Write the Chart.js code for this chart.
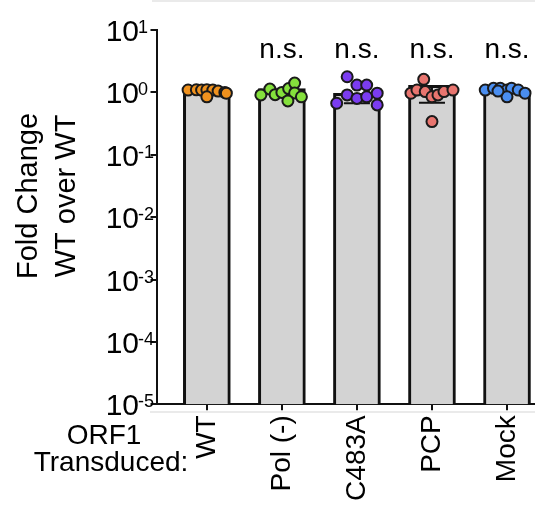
<!DOCTYPE html>
<html>
<head>
<meta charset="utf-8">
<script src="https://cdn.jsdelivr.net/npm/chart.js@4.4.1/dist/chart.umd.min.js"></script>
<style>
  html, body { margin: 0; padding: 0; background: #fff; overflow: hidden; }
  #wrap { width: 535px; height: 507px; position: relative; }
</style>
</head>
<body>
<div id="wrap"><canvas id="chart"></canvas></div>
<script>
// categories and bar values (fold change)
const categories = ['WT', 'Pol (-)', 'C483A', 'PCP', 'Mock'];
const barMeans = [1.10, 1.15, 0.97, 1.30, 1.09];
const errLow = [1.03, 0.95, 0.67, 0.68, 1.00];
const sigLabels = ['', 'n.s.', 'n.s.', 'n.s.', 'n.s.'];
const yTickPowers = [1, 0, -1, -2, -3, -4, -5];

// individual replicates per group
const dotsWT   = [1.09, 1.10, 1.09, 1.10, 1.09, 1.05, 1.00, 0.85, 0.97];
const dotsPol  = [0.91, 1.13, 0.92, 1.00, 1.15, 1.41, 0.98, 0.73, 0.85];
const dotsC483 = [1.78, 1.31, 1.31, 0.91, 0.80, 0.85, 0.97, 0.67, 0.63];
const dotsPCP  = [1.62, 0.97, 1.09, 1.03, 0.85, 0.91, 1.03, 1.09, 0.34];
const dotsMock = [1.09, 1.16, 1.16, 1.09, 1.16, 1.09, 0.97, 0.85, 1.05];

// horizontal scatter of the dots, in category units
const jitterWT   = [-0.25, -0.14, -0.07, 0.00, 0.08, 0.15, 0.24, 0.00, 0.26];
const jitterPol  = [-0.28, -0.16, -0.09, 0.00, 0.09, 0.17, 0.17, 0.08, 0.26];
const jitterC483 = [-0.13, 0.00, 0.13, -0.13, 0.00, 0.13, 0.27, -0.27, 0.27];
const jitterPCP  = [-0.11, -0.28, -0.20, -0.09, 0.00, 0.08, 0.16, 0.28, 0.00];
const jitterMock = [-0.29, -0.18, -0.09, 0.00, 0.06, 0.15, 0.24, 0.00, -0.12];

const groupDots = [dotsWT, dotsPol, dotsC483, dotsPCP, dotsMock];
const groupJitter = [jitterWT, jitterPol, jitterC483, jitterPCP, jitterMock];
const groupColors = ['#f0921e', '#84e03c', '#7b3cf0', '#e8756f', '#4a8ef0'];

const FONT = '"Liberation Sans", Arial, sans-serif';

const scatterSets = groupDots.map((vals, g) => ({
  type: 'scatter',
  order: 1,
  data: vals.map((v, k) => ({ x: g + groupJitter[g][k], y: v })),
  backgroundColor: groupColors[g],
  borderColor: '#1a1a1a',
  borderWidth: 2,
  pointRadius: 5.5
}));

// error bars (drawn below the mean only), after the bars but under the dots
const errorBars = {
  id: 'errorBars',
  afterDatasetDraw(chart, args) {
    if (args.index !== 0) return;
    const { ctx, scales: { x, y } } = chart;
    ctx.save();
    ctx.strokeStyle = '#111';
    ctx.lineWidth = 2;
    barMeans.forEach((m, i) => {
      const px = x.getPixelForValue(i);
      const y0 = y.getPixelForValue(m);
      const y1 = y.getPixelForValue(errLow[i]);
      ctx.beginPath();
      ctx.moveTo(px, y0);
      ctx.lineTo(px, y1);
      ctx.moveTo(px - 13, y1);
      ctx.lineTo(px + 13, y1);
      ctx.stroke();
    });
    ctx.restore();
  }
};

// texts: y tick labels with exponents, axis titles, n.s. marks
const labels = {
  id: 'labels',
  afterDraw(chart) {
    const { ctx, scales: { x, y } } = chart;
    ctx.save();
    ctx.fillStyle = '#000';
    yTickPowers.forEach(p => {
      const py = y.getPixelForValue(Math.pow(10, p));
      ctx.font = '30px ' + FONT;
      ctx.textAlign = 'right';
      ctx.textBaseline = 'alphabetic';
      ctx.fillText('10', 139, py + 11);
      ctx.font = '18px ' + FONT;
      ctx.textAlign = 'left';
      ctx.fillText(String(p), 138, py + 3);
    });

    ctx.font = '28px ' + FONT;
    ctx.textAlign = 'center';
    sigLabels.forEach((s, i) => {
      if (s) ctx.fillText(s, x.getPixelForValue(i), 58);
    });

    ctx.fillText('ORF1', 104, 444);
    ctx.fillText('Transduced:', 111, 471);

    ctx.font = '29px ' + FONT;
    [['Fold Change', 37], ['WT over WT', 75]].forEach(([t, bx]) => {
      ctx.save();
      ctx.translate(bx, 196);
      ctx.rotate(-Math.PI / 2);
      ctx.fillText(t, 0, 0);
      ctx.restore();
    });

    // faint frame lines seen in the original image
    ctx.strokeStyle = '#e4e4e4';
    ctx.lineWidth = 1.5;
    ctx.beginPath();
    ctx.moveTo(152, 1); ctx.lineTo(535, 1);
    ctx.moveTo(150, 412); ctx.lineTo(535, 412);
    ctx.stroke();
    ctx.restore();
  }
};

new Chart(document.getElementById('chart'), {
  data: {
    datasets: [{
      type: 'bar',
      order: 2,
      data: barMeans.map((m, i) => ({ x: i, y: m })),
      backgroundColor: '#d3d3d3',
      borderColor: '#111',
      borderWidth: { top: 3, left: 3, right: 3, bottom: 0 },
      borderSkipped: false,
      barThickness: 47
    }, ...scatterSets]
  },
  options: {
    responsive: true,
    maintainAspectRatio: false,
    animation: false,
    layout: { autoPadding: false, padding: { top: 30, right: 0, left: 0, bottom: 0 } },
    plugins: { legend: { display: false }, tooltip: { enabled: false } },
    scales: {
      x: {
        type: 'linear',
        offset: false,
        min: -0.671,
        max: 4.373,
        afterBuildTicks: s => { s.ticks = categories.map((c, i) => ({ value: i })); },
        afterFit: s => { s.height = 102.7; s.paddingLeft = 0; s.paddingRight = 0; },
        grid: { display: true, offset: false, drawOnChartArea: false, drawTicks: true, tickLength: 6, color: '#111', lineWidth: 2 },
        border: { display: true, color: '#111', width: 2 },
        ticks: {
          autoSkip: false,
          minRotation: 90,
          maxRotation: 90,
          padding: 5,
          color: '#000',
          font: { family: FONT, size: 28 },
          callback: v => categories[v] ?? ''
        }
      },
      y: {
        type: 'logarithmic',
        min: 1e-5,
        max: 10,
        afterBuildTicks: s => { s.ticks = yTickPowers.map(p => ({ value: Math.pow(10, p) })); },
        afterFit: s => { s.width = 156.5; s.paddingTop = 0; s.paddingBottom = 0; },
        grid: { display: true, drawOnChartArea: false, drawTicks: true, tickLength: 6, color: '#111', lineWidth: 2 },
        border: { display: true, color: '#111', width: 2 },
        ticks: { callback: () => '' }
      }
    }
  },
  plugins: [errorBars, labels]
});
</script>
</body>
</html>
